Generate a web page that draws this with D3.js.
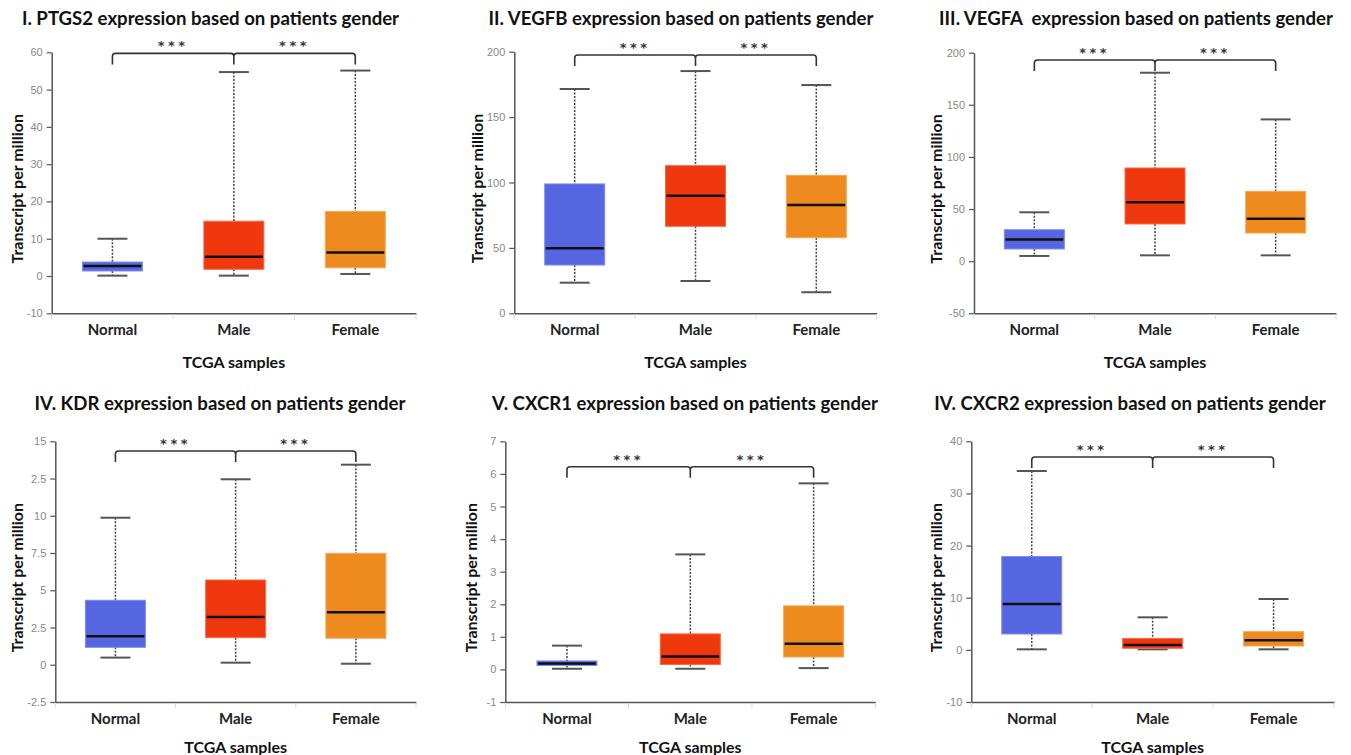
<!DOCTYPE html>
<html>
<head>
<meta charset="utf-8">
<script src="https://cdnjs.cloudflare.com/ajax/libs/d3/7.8.5/d3.min.js"></script>
<style>
  body { margin: 0; background: #fff; }
  svg { display: block; }
</style>
</head>
<body>
<svg id="chart"></svg>
<script>
const W = 1351;
const H = 755;

// groups and colours
const groups = ['Normal', 'Male', 'Female'];
const groupColors = ['#5566e0', '#f0380e', '#ef8a1e'];
const groupStroke = ['#7e8cf0', '#f66a48', '#f5a859'];

const titles = [
	'I. PTGS2 expression based on patients gender',
	'II. VEGFB expression based on patients gender',
	'III. VEGFA  expression based on patients gender',
	'IV. KDR expression based on patients gender',
	'V. CXCR1 expression based on patients gender',
	'IV. CXCR2 expression based on patients gender',
];

// box stats per group: [lower whisker, q1, median, q3, upper whisker]
const ptgs2 = [[0.1, 1.35, 2.7, 3.75, 10], [0.1, 1.8, 5.2, 14.7, 54.7], [0.55, 2.2, 6.3, 17.3, 55.1]];
const vegfb = [[23.4, 36.9, 49.7, 98.9, 171.5], [24.7, 66.5, 89.9, 112.9, 185.2], [16.1, 57.8, 82.8, 105.5, 174.5]];
const vegfa = [[5, 11.7, 20.7, 30.2, 46.9], [5.6, 35.7, 56.5, 89.4, 180.8], [5.6, 27, 40.8, 67, 136]];
const kdr = [[0.48, 1.17, 1.91, 4.33, 9.87], [0.14, 1.82, 3.21, 5.69, 12.45], [0.07, 1.78, 3.52, 7.48, 13.43]];
const cxcr1 = [[0.02, 0.12, 0.18, 0.26, 0.73], [0.02, 0.15, 0.4, 1.09, 3.53], [0.04, 0.38, 0.79, 1.95, 5.71]];
const cxcr2 = [[0.1, 3.04, 8.8, 17.9, 34.3], [0.1, 0.3, 0.93, 2.2, 6.24], [0.1, 0.74, 1.83, 3.5, 9.75]];
const boxData = [ptgs2, vegfb, vegfa, kdr, cxcr1, cxcr2];

// y axis domains and ticks
const yDomains = [[-10, 60], [0, 200], [-50, 200], [-2.5, 15], [-1, 7], [-10, 40]];
const yTicks = [
	[-10, 0, 10, 20, 30, 40, 50, 60],
	[0, 50, 100, 150, 200],
	[-50, 0, 50, 100, 150, 200],
	[-2.5, 0, 2.5, 5, 7.5, 10, 12.5, 15],
	[-1, 0, 1, 2, 3, 4, 5, 6, 7],
	[-10, 0, 10, 20, 30, 40],
];
const yTickLabels = [
	['-10', '0', '10', '20', '30', '40', '50', '60'],
	['0', '50', '100', '150', '200'],
	['-50', '0', '50', '100', '150', '200'],
	['-2.5', '0', '2.5', '5', '7.5', '10', '2.5', '15'],
	['-1', '0', '1', '2', '3', '4', '5', '6', '7'],
	['-10', '0', '10', '20', '30', '40'],
];
// significance bracket level (data units)
const bracketLevels = [59.7, 197.5, 193, 14.35, 6.22, 37];
const sigLabels = ['***', '***'];

// panel layout (pixels)
const layout = [
	{ x0: 51.7, x1: 416, y0: 52.3, y1: 313.3, tx: 210.5, ty: 18, lx: 16 },
	{ x0: 514.3, x1: 876.7, y0: 51.7, y1: 313.3, tx: 681, ty: 18, lx: 476 },
	{ x0: 974, x1: 1336, y0: 52.7, y1: 313.3, tx: 1136, ty: 18, lx: 935 },
	{ x0: 55.3, x1: 416, y0: 441.3, y1: 702, tx: 220, ty: 403, lx: 16 },
	{ x0: 505.3, x1: 875.3, y0: 441.3, y1: 702, tx: 685, ty: 403, lx: 470.7 },
	{ x0: 971.3, x1: 1334, y0: 441.3, y1: 702, tx: 1130, ty: 403, lx: 935 },
];

const svg = d3.select('#chart').attr('width', W).attr('height', H);
const fontBold = "Lato, 'Open Sans', sans-serif";

const drawPanel = (i) => {
	const L = layout[i];
	const data = boxData[i];
	const g = svg.append('g');

	const x = d3.scaleBand().domain(groups).range([L.x0, L.x1]);
	const y = d3.scaleLinear().domain(yDomains[i]).range([L.y1, L.y0]);
	const bw = x.bandwidth();
	const boxW = 60;
	const capW = 30;

	// title (keep the double space in the VEGFA title)
	g.append('text')
		.attr('x', L.tx)
		.attr('y', L.ty)
		.attr('text-anchor', 'middle')
		.attr('dominant-baseline', 'central')
		.attr('font-family', fontBold)
		.attr('font-weight', 700)
		.attr('font-size', '18.6px')
		.attr('fill', '#111')
		.style('white-space', 'pre')
		.text(titles[i]);

	// y axis
	const yAxis = d3
		.axisLeft(y)
		.tickValues(yTicks[i])
		.tickFormat((d, k) => yTickLabels[i][k])
		.tickSize(5)
		.tickSizeOuter(0)
		.tickPadding(4);
	const ya = g.append('g').attr('transform', `translate(${L.x0},0)`).call(yAxis);
	ya.select('.domain').attr('stroke', '#555').attr('stroke-width', 1.5);
	ya.selectAll('.tick line').attr('stroke', '#555').attr('stroke-width', 1.2);
	ya.selectAll('.tick text')
		.attr('fill', '#888')
		.attr('font-family', "'Liberation Sans', Arial, sans-serif")
		.attr('font-size', '11px');

	// x axis
	const xAxis = d3.axisBottom(x).tickSize(0).tickPadding(11);
	const xa = g.append('g').attr('transform', `translate(0,${L.y1})`).call(xAxis);
	xa.select('.domain').attr('stroke', '#555').attr('stroke-width', 1.5);
	xa.selectAll('.tick text')
		.attr('fill', '#222')
		.attr('font-family', fontBold)
		.attr('font-weight', 700)
		.attr('font-size', '15px');
	// faint category separators
	const seps = groups.map((d) => x(d)).concat([x(groups[groups.length - 1]) + bw]);
	g.selectAll('line.sep')
		.data(seps)
		.enter()
		.append('line')
		.attr('class', 'sep')
		.attr('x1', (d) => d)
		.attr('x2', (d) => d)
		.attr('y1', L.y1 + 1)
		.attr('y2', L.y1 + 6)
		.attr('stroke', '#d4dbe6')
		.attr('stroke-width', 1);

	// axis titles
	g.append('text')
		.attr('x', (L.x0 + L.x1) / 2)
		.attr('y', L.y1 + (i < 3 ? 48 : 44))
		.attr('text-anchor', 'middle')
		.attr('dominant-baseline', 'central')
		.attr('font-family', fontBold)
		.attr('font-weight', 700)
		.attr('font-size', '16px')
		.attr('fill', '#111')
		.text('TCGA samples');

	g.append('text')
		.attr('transform', `translate(${L.lx},${(L.y0 + L.y1) / 2 + 6}) rotate(-90)`)
		.attr('text-anchor', 'middle')
		.attr('dominant-baseline', 'central')
		.attr('font-family', fontBold)
		.attr('font-weight', 700)
		.attr('font-size', '16px')
		.attr('fill', '#111')
		.text('Transcript per million');

	// boxes
	const boxes = g
		.selectAll('g.box')
		.data(data)
		.enter()
		.append('g')
		.attr('class', 'box')
		.attr('transform', (d, k) => `translate(${x(groups[k]) + bw / 2},0)`);

	// dashed whiskers
	boxes
		.append('line')
		.attr('y1', (d) => y(d[4]))
		.attr('y2', (d) => y(d[3]))
		.attr('stroke', '#444')
		.attr('stroke-width', 1.5)
		.attr('stroke-dasharray', '2,1.5');
	boxes
		.append('line')
		.attr('y1', (d) => y(d[1]))
		.attr('y2', (d) => y(d[0]))
		.attr('stroke', '#444')
		.attr('stroke-width', 1.5)
		.attr('stroke-dasharray', '2,1.5');
	// caps
	[0, 4].forEach((q) => {
		boxes
			.append('line')
			.attr('x1', -capW / 2)
			.attr('x2', capW / 2)
			.attr('y1', (d) => y(d[q]))
			.attr('y2', (d) => y(d[q]))
			.attr('stroke', '#555')
			.attr('stroke-width', 2);
	});
	boxes
		.append('rect')
		.attr('x', -boxW / 2)
		.attr('width', boxW)
		.attr('y', (d) => y(d[3]))
		.attr('height', (d) => y(d[1]) - y(d[3]))
		.attr('fill', (d, k) => groupColors[k])
		.attr('stroke', (d, k) => groupStroke[k])
		.attr('stroke-width', 1);
	boxes
		.append('line')
		.attr('x1', -boxW / 2 + 1)
		.attr('x2', boxW / 2 - 1)
		.attr('y1', (d) => y(d[2]))
		.attr('y2', (d) => y(d[2]))
		.attr('stroke', '#111')
		.attr('stroke-width', 2.5);

	// significance bracket
	const xl = x(groups[0]) + bw / 2;
	const xm = x(groups[1]) + bw / 2;
	const xr = x(groups[2]) + bw / 2;
	const yb = y(bracketLevels[i]);
	const drop = 11;
	const r = 3;
	const path = d3.path();
	path.moveTo(xl, yb + drop);
	path.lineTo(xl, yb + r);
	path.quadraticCurveTo(xl, yb, xl + r, yb);
	path.lineTo(xm - r, yb);
	path.quadraticCurveTo(xm, yb, xm, yb + r);
	path.lineTo(xm, yb + drop);
	path.moveTo(xm, yb + r);
	path.quadraticCurveTo(xm, yb, xm + r, yb);
	path.lineTo(xr - r, yb);
	path.quadraticCurveTo(xr, yb, xr, yb + r);
	path.lineTo(xr, yb + drop);
	g.append('path')
		.attr('d', path.toString())
		.attr('fill', 'none')
		.attr('stroke', '#333')
		.attr('stroke-width', 1.6);

	g.selectAll('text.sig')
		.data(sigLabels)
		.enter()
		.append('text')
		.attr('class', 'sig')
		.attr('x', (d, k) => (k === 0 ? (xl + xm) / 2 : (xm + xr) / 2))
		.attr('y', yb - 3)
		.attr('text-anchor', 'middle')
		.attr('font-family', "'DejaVu Sans', sans-serif")
		.attr('font-weight', 700)
		.attr('font-size', '13px')
		.attr('letter-spacing', '3.5px')
		.attr('fill', '#333')
		.text((d) => d);
};

d3.range(6).forEach(drawPanel);
</script>
</body>
</html>
